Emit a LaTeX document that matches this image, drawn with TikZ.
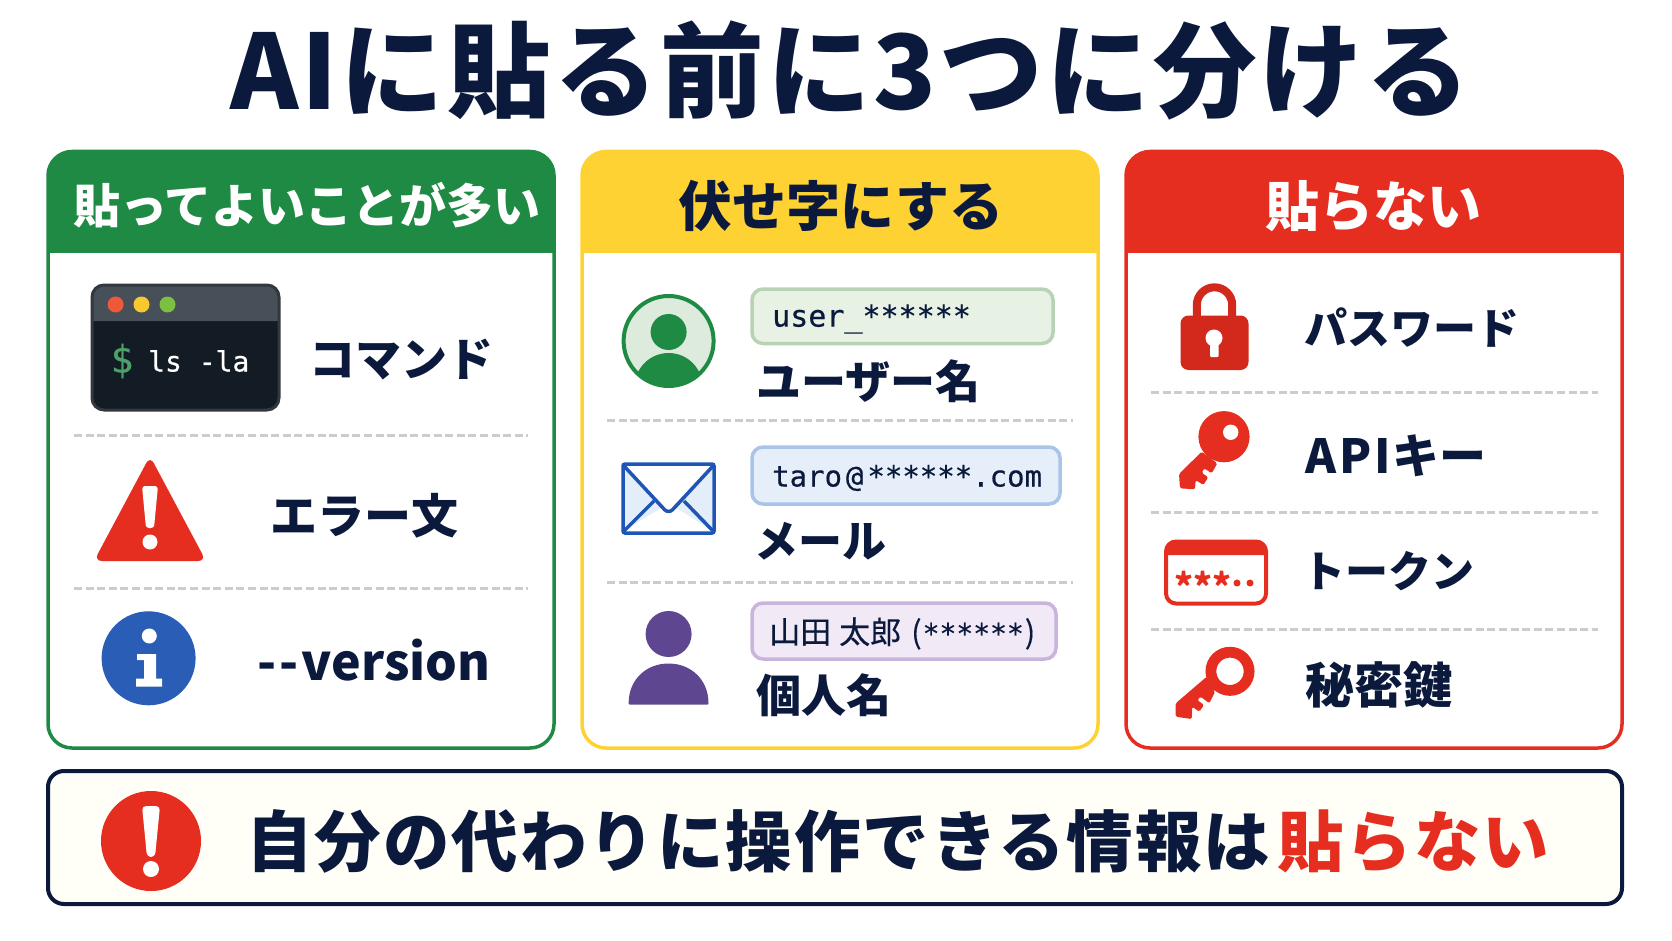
\documentclass[tikz,border=0pt]{standalone}
\usepackage{fontspec}
\usepackage{tikz}

\newfontfamily\jpreg[FakeBold=0.3]{Noto Sans CJK JP}
\newfontfamily\jpbold{Noto Sans CJK JP Black}
\newfontfamily\jpheavy[LetterSpace=3]{Noto Sans CJK JP Black}
\newfontfamily\codefont[FakeBold=0.5]{DejaVu Sans Mono}

\definecolor{ink}{HTML}{0B1A3C}
\definecolor{okgreen}{HTML}{1E8A43}
\definecolor{maskyellow}{HTML}{FFD233}
\definecolor{ngred}{HTML}{E52D20}
\definecolor{infoblue}{HTML}{2A5DB5}
\definecolor{mailblue}{HTML}{1F55B5}
\definecolor{violet}{HTML}{5F4690}
\definecolor{dashgray}{HTML}{CCCCCC}
\definecolor{termbody}{HTML}{131C24}
\definecolor{termbar}{HTML}{474F58}
\definecolor{termedge}{HTML}{33383E}

\begin{document}
\begin{tikzpicture}[x=1pt,y=-1pt,
        lbl/.style={font=\jpbold\fontsize{#1}{#1}\selectfont,text=ink,inner sep=0pt,
            text height=0.88*#1 pt,text depth=0.12*#1 pt},
        heavy/.style={font=\jpheavy\fontsize{#1}{#1}\selectfont,text=ink,inner sep=0pt,
            text height=0.88*#1 pt,text depth=0.12*#1 pt},
        code/.style={font=\codefont\fontsize{#1}{#1}\selectfont,text=ink,inner sep=0pt,anchor=west},
        sepline/.style={dashgray,line width=3pt,dash pattern=on 8pt off 3.6pt},
        pill/.style={line width=3.5pt,rounded corners=11pt}]

    \useasboundingbox (0,0) rectangle (1672,941);

    \node[heavy=103.5] (title) at (850,70) {AIに貼る前に3つに分ける};

    % the three cards
    \foreach \xa/\xb/\col in {48/554/okgreen,582/1098/maskyellow,1126/1622/ngred}{
        \fill[\col] (\xa,253) [rounded corners=24pt] -- (\xa,151.5) -- (\xb,151.5) [sharp corners] -- (\xb,253) -- cycle;
        \draw[\col,line width=3.5pt,rounded corners=24pt] (\xa,151.5) rectangle (\xb,748);
    }
    \node[lbl=47,text=white] (headok) at (307,206) {貼ってよいことが多い};
    \node[lbl=54] (headmask) at (841,206) {伏せ字にする};
    \node[lbl=54,text=white] (headng) at (1373,206) {貼らない};

    \foreach \ya in {435,588}{ \draw[sepline] (74,\ya) -- (528,\ya); }
    \foreach \ya in {420,582}{ \draw[sepline] (607,\ya) -- (1073,\ya); }
    \foreach \ya in {392,512,629}{ \draw[sepline] (1151,\ya) -- (1598,\ya); }

    % terminal
    \fill[termbody,rounded corners=12pt] (92,285) rectangle (279,410);
    \fill[termbar] (93,321) [rounded corners=11pt] -- (93,286) -- (278,286) [sharp corners] -- (278,321) -- cycle;
    \draw[termedge,line width=3pt,rounded corners=12pt] (92,285) rectangle (279,410);
    \foreach \xa/\col in {115.6/F0583A,141.5/F7C92F,167.5/7CC041}{
        \definecolor{dotcol}{HTML}{\col}
        \fill[dotcol] (\xa,304.5) circle (8pt);
    }
    \node[code=38,text=okgreen!80!white,anchor=center] (dollar) at (122,361) {\$};
    \node[code=28,text=white] (lsla) at (148,361) {ls -la};
    \node[lbl=46] (cmd) at (401,359) {コマンド};

    % warning
    \fill[ngred,rounded corners=8pt] (150,456) -- (206,561) -- (94,561) -- cycle;
    \fill[white,rounded corners=3pt] (142,486) -- (158,486) -- (154,528) -- (146,528) -- cycle;
    \fill[white] (150,542) circle (7.5pt);
    \node[lbl=47] (err) at (364,516) {エラー文};

    % info
    \fill[infoblue] (148.6,658.3) circle (47pt);
    \fill[white] (149.3,636) circle (7.5pt);
    \fill[white] (137,654) -- (156,654) -- (156,678.5) -- (162,678.5) -- (162,686.5) -- (136,686.5) -- (136,678.5) -- (144,678.5) -- (144,660) -- (137,660) -- cycle;
    \node[lbl=50] (ver) at (374,661) {-\kern3pt-\kern3pt version};

    % user
    \definecolor{userfill}{HTML}{DDEBDD}
    \fill[userfill] (668.6,341) circle (46pt);
    \begin{scope}
        \clip (668.6,341) circle (46pt);
        \fill[okgreen] (668.6,387) ellipse (34pt and 34pt);
    \end{scope}
    \draw[okgreen,line width=4pt] (668.6,341) circle (45pt);
    \fill[okgreen] (668.6,332) circle (18pt);

    \definecolor{userpill}{HTML}{E8F2E4}
    \definecolor{useredge}{HTML}{B9D2B5}
    \draw[pill,draw=useredge,fill=userpill] (752,289) rectangle (1053,343.5);
    \node[code=30] (user) at (772,319) {user\_******};
    \node[lbl=45,anchor=west] (uname) at (756,381) {ユーザー名};

    % mail
    \definecolor{mailfill}{HTML}{E4EEF9}
    \fill[white] (623,463) rectangle (714,534);
    \fill[mailfill] (625,470) -- (664,506) -- (625,530) -- cycle;
    \fill[mailfill] (712,470) -- (673,506) -- (712,530) -- cycle;
    \draw[mailblue,line width=3.5pt,rounded corners=2pt] (623,464) rectangle (714,533);
    \draw[mailblue,line width=3.5pt,rounded corners=6pt] (624,466) -- (668.6,514) -- (713,466);
    \draw[mailblue,line width=3.5pt] (624,531) -- (654,501) (713,531) -- (684,501);

    \definecolor{mailpill}{HTML}{E6EEFA}
    \definecolor{mailedge}{HTML}{A9C4E8}
    \draw[pill,draw=mailedge,fill=mailpill] (752,447) rectangle (1060,504);
    \node[code=29] (addr) at (772,478) {taro\kern4pt @\kern4pt ******.com};
    \node[lbl=44,anchor=west] (mail) at (754,541) {メール};

    % person
    \fill[violet] (668.6,634) circle (23pt);
    \fill[violet,rounded corners=1pt] (628.6,704.5) .. controls (628.6,678) and (648,663.6) .. (668.6,663.6) .. controls (689,663.6) and (708.5,678) .. (708.5,704.5) -- cycle;

    \definecolor{namepill}{HTML}{F1E9F6}
    \definecolor{nameedge}{HTML}{C9B4DD}
    \draw[pill,draw=nameedge,fill=namepill] (752,603) rectangle (1056,659);
    \node[code=31,font=\jpreg\fontsize{31}{31}\selectfont,text height=27pt,text depth=4pt] (taro) at (769,632) {山田\kern8pt 太郎\kern10pt(\kern1pt{\codefont\fontsize{28}{28}\selectfont ******}\kern1pt)};
    \node[lbl=45,anchor=west] (pname) at (756,695) {個人名};

    % lock
    \draw[ngred!92!black,line width=8pt] (1196.8,320) -- (1196.8,305) arc (180:0:17.7pt) -- (1232.2,320);
    \fill[ngred!92!black,rounded corners=8pt] (1180.5,315.5) rectangle (1248.5,370);
    \fill[white] (1214,338) circle (8.5pt);
    \fill[white,rounded corners=1pt] (1210,338) rectangle (1218.5,357);
    \node[lbl=43,anchor=west] (pw) at (1304,328) {パスワード};

    % api key
    \fill[ngred] (1224,436.7) circle (25.6pt);
    \fill[ngred,rounded corners=1.5pt] (1201.7,451.7) -- (1179,474) -- (1180,488.3) -- (1195,489.3) -- (1195.7,480) -- (1203.3,485) -- (1208.3,477.3) -- (1201.7,472.7) -- (1204.3,468.3) -- (1211.7,473.3) -- (1217.3,463.3) -- cycle;
    \fill[white] (1230.7,432.3) circle (7.7pt);
    \node[lbl=47,anchor=west] (api) at (1305,456) {A\kern3pt P\kern3pt I\kern2pt キー};

    % token
    \fill[ngred] (1166,555) [rounded corners=9pt] -- (1166,541.5) -- (1266,541.5) [sharp corners] -- (1266,555) -- cycle;
    \draw[ngred,line width=4pt,rounded corners=10pt] (1166,541.5) rectangle (1266,603.5);
    \node[lbl=36,text=ngred] (stars) at (1203,587) {***};
    \foreach \xa in {1237,1250}{ \fill[ngred] (\xa,583) circle (3.5pt); }
    \node[lbl=43,anchor=west] (token) at (1302,571) {トークン};

    % secret key
    \fill[ngred,rounded corners=1.5pt] (1206.7,676.7) -- (1175.7,703.3) -- (1175.7,716.7) -- (1191.7,719) -- (1192.3,706.7) -- (1199.3,711.7) -- (1204,705) -- (1197.3,700) -- (1200.7,696.7) -- (1209.3,703.3) -- (1215,691.7) -- cycle;
    \draw[ngred,line width=10.8pt] (1230,671.3) circle (19.1pt);
    \node[lbl=49,anchor=west] (secret) at (1305,685) {秘密鍵};

    % bottom banner
    \draw[ink,fill=yellow!3!white,line width=4pt,rounded corners=16pt] (48,771) rectangle (1622,904);
    \fill[ngred] (151,841) circle (50pt);
    \fill[white,rounded corners=4pt] (142,806) -- (160,806) -- (155,857) -- (147,857) -- cycle;
    \fill[white] (151,869) circle (8pt);
    \node[heavy=66.5,anchor=west] (warn) at (246,841) {自分の代わりに操作できる情報は\kern7pt\textcolor{ngred}{貼らない}};

\end{tikzpicture}
\end{document}
